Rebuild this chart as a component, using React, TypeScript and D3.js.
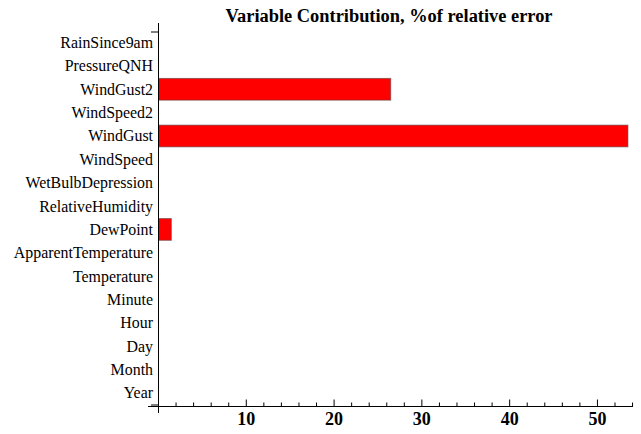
import React from "react";
import * as d3 from "d3";

const categories = [
  "RainSince9am",
  "PressureQNH",
  "WindGust2",
  "WindSpeed2",
  "WindGust",
  "WindSpeed",
  "WetBulbDepression",
  "RelativeHumidity",
  "DewPoint",
  "ApparentTemperature",
  "Temperature",
  "Minute",
  "Hour",
  "Day",
  "Month",
  "Year",
];
const values = [0, 0, 26.45, 0, 53.47, 0, 0, 0, 1.46, 0, 0, 0, 0, 0, 0, 0];
const majorTicks = [10, 20, 30, 40, 50];
const title = "Variable Contribution, %of relative error";

export default function App() {
  const W = 641;
  const H = 434;
  const x = d3.scaleLinear().domain([0, 54.05]).range([158.5, 633]);
  const y = d3.scaleBand<string>().domain(categories).range([31, 404.5]).paddingInner(0.07).paddingOuter(0.03);
  const axisY = 406.5;
  const minor = d3.range(2, 54.05, 2).filter((v) => v % 10 !== 0);
  const font = "'Liberation Serif', 'Times New Roman', serif";
  return (
    <svg width={W} height={H} style={{ position: "absolute", left: 0, top: 0 }} fontFamily={font}>
      <rect width={W} height={H} fill="white" />
      <text x={389} y={21.5} textAnchor="middle" fontWeight="bold" fontSize={18.4}>
        {title}
      </text>
      {categories.map((c, i) =>
        values[i] > 0 ? (
          <rect
            key={c}
            x={x(0)}
            y={y(c)!}
            width={x(values[i]) - x(0)}
            height={y.bandwidth()}
            fill="#ff0000"
            stroke="rgba(90,60,60,0.6)"
            strokeWidth={1}
          />
        ) : null
      )}
      {categories.map((c) => (
        <text key={c} x={153} y={y(c)! + y.bandwidth() / 2 + 5.5} textAnchor="end" fontSize={15.9}>
          {c}
        </text>
      ))}
      {/* y axis */}
      <line x1={x(0)} x2={x(0)} y1={23} y2={413} stroke="black" strokeWidth={1} />
      <line x1={151} x2={x(0)} y1={32} y2={32} stroke="black" />
      <line x1={151} x2={x(0)} y1={405} y2={405} stroke="black" />
      {/* x axis */}
      <line x1={148} x2={633} y1={axisY} y2={axisY} stroke="black" strokeWidth={1} />
      {minor.map((v) => (
        <line key={v} x1={x(v)} x2={x(v)} y1={axisY} y2={axisY - 4} stroke="black" />
      ))}
      {majorTicks.map((v) => (
        <g key={v}>
          <line x1={x(v)} x2={x(v)} y1={axisY} y2={axisY - 7} stroke="black" />
          <text x={x(v)} y={425} textAnchor="middle" fontWeight="bold" fontSize={18}>
            {v}
          </text>
        </g>
      ))}
    </svg>
  );
}
